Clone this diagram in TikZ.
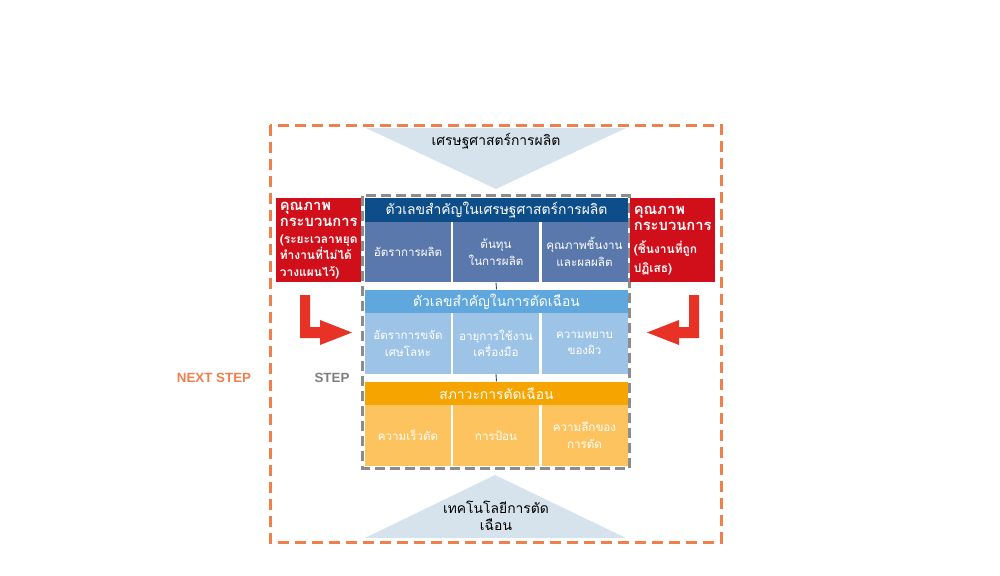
\documentclass[tikz,border=0pt]{standalone}
\usepackage{fontspec}
\setmainfont{Liberation Sans}
\newfontfamily\thai[Script=Thai]{Loma}
\usetikzlibrary{positioning}

\definecolor{nextorange}{HTML}{F07F4E}
\definecolor{trifill}{HTML}{D7E3EC}
\definecolor{framegray}{HTML}{8C8C8C}
\definecolor{prodhead}{HTML}{0D4D8A}
\definecolor{prodcell}{HTML}{5B78AC}
\definecolor{cuthead}{HTML}{5FA7DC}
\definecolor{cutcell}{HTML}{9DC3E6}
\definecolor{condhead}{HTML}{F5A400}
\definecolor{condcell}{HTML}{FCC35F}
\definecolor{qualred}{HTML}{D10F1B}
\definecolor{arrowred}{HTML}{E83226}
\definecolor{steptext}{HTML}{7F7F7F}

% Thai text with fixed line spacing
\newcommand{\thaitight}{\thai\lineskiplimit=-50pt\lineskip=0pt}
\newcommand{\bigline}{\fontsize{8.4}{9.4}\selectfont}

\tikzset{
  hdr/.style={minimum width=52.6mm, minimum height=4.7mm, inner sep=0pt,
    text=white, font=\thaitight\fontsize{7.9}{9}\selectfont},
  cellbox/.style={minimum width=17.2mm, minimum height=12.1mm, inner sep=0pt,
    text=white, align=center, font=\thaitight\fontsize{6.6}{9.4}\selectfont},
  qualbox/.style={fill=qualred, text=white, anchor=north west, align=left,
    minimum width=17mm, minimum height=16.8mm, text width=15.6mm,
    inner xsep=0.7mm, inner ysep=0.4mm,
    font=\thaitight\bfseries\fontsize{6.8}{9.4}\selectfont},
  tritext/.style={align=center, font=\thaitight\fontsize{7.9}{9.4}\selectfont},
  tri/.style={fill=trifill},
  nextframe/.style={draw=nextorange, line width=0.6mm, dash pattern=on 2.2mm off 1.2mm},
  stepframe/.style={draw=framegray, line width=0.6mm, dash pattern=on 2mm off 1mm},
  link/.style={draw=prodhead, line width=0.5pt},
  turnarrow/.style={fill=arrowred},
  nextlabel/.style={text=nextorange, font=\bfseries\fontsize{7.6}{9}\selectfont},
  steplabel/.style={text=steptext, font=\bfseries\fontsize{7.6}{9}\selectfont}
}

\begin{document}
\begin{tikzpicture}[x=0.2mm,y=-0.2mm]
  \useasboundingbox (0,0) rectangle (1000,575);

  % Outer frame
  \draw[nextframe] (270,125) rectangle (721,542);

  % Triangles
  \fill[tri] (366,128) -- (626,128) -- (496,189) -- cycle;
  \node[tritext] (econ) at (496,141) {เศรษฐศาสตร์การผลิต};
  \fill[tri] (365,538) -- (626,538) -- (495,475) -- cycle;
  \node[tritext] (tech) at (496,516) {เทคโนโลยีการตัด\\เฉือน};

  % Production figures
  \node[hdr, fill=prodhead] (hprod) at (496.5,210) {ตัวเลขสำคัญในเศรษฐศาสตร์การผลิต};
  \node[cellbox, fill=prodcell] (rate) at (408,252) {อัตราการผลิต};
  \node[cellbox, fill=prodcell] (cost) at (496,252) {ต้นทุน\\ในการผลิต};
  \node[cellbox, fill=prodcell] (yield) at (584.5,252) {คุณภาพชิ้นงาน\\และผลผลิต};

  % Cutting figures
  \node[hdr, fill=cuthead] (hcut) at (496.5,301.5) {ตัวเลขสำคัญในการตัดเฉือน};
  \node[cellbox, fill=cutcell] (removal) at (408,343.5) {อัตราการขจัด\\เศษโลหะ};
  \node[cellbox, fill=cutcell] (toollife) at (496,343.5) {อายุการใช้งาน\\เครื่องมือ};
  \node[cellbox, fill=cutcell] (rough) at (584.5,343.5) {ความหยาบ\\ของผิว};

  % Cutting conditions
  \node[hdr, fill=condhead] (hcond) at (496.5,393.5) {สภาวะการตัดเฉือน};
  \node[cellbox, fill=condcell] (speed) at (408,435.5) {ความเร็วตัด};
  \node[cellbox, fill=condcell] (feed) at (496,435.5) {การป้อน};
  \node[cellbox, fill=condcell] (depth) at (584.5,435.5) {ความลึกของ\\การตัด};

  % Links between blocks
  \draw[link] (cost.south) -- (hcut.north);
  \draw[link] (toollife.south) -- (hcond.north);

  % Step frame
  \draw[stepframe] ([shift={(-2,-2)}]hprod.north west) rectangle ([shift={(2,2)}]depth.south east);

  % Process quality boxes
  \node[qualbox] (qleft) at (276,198) {%
    {\bigline คุณภาพ}\\{\bigline กระบวนการ}\\
    (ระยะเวลาหยุด\\ทำงานที่ไม่ได้\\วางแผนไว้)};
  \node[qualbox] (qright) at (630,198) {%
    {\bigline คุณภาพ}\\{\bigline กระบวนการ}\\[1.2mm]
    (ชิ้นงานที่ถูก\\[0.4mm]ปฏิเสธ)};

  % Turn arrows
  \fill[turnarrow] (300,295) -- (310,295) -- (310,327) -- (320,327) -- (320,320)
    -- (352,332.5) -- (320,345) -- (320,338) -- (300,338) -- cycle;
  \fill[turnarrow] (699,295) -- (689,295) -- (689,327) -- (679,327) -- (679,320)
    -- (647,332.5) -- (679,345) -- (679,338) -- (699,338) -- cycle;

  % Step labels
  \node[nextlabel] (next) at (214,378) {NEXT STEP};
  \node[steplabel] (steplbl) at (332,378) {STEP};
\end{tikzpicture}
\end{document}
